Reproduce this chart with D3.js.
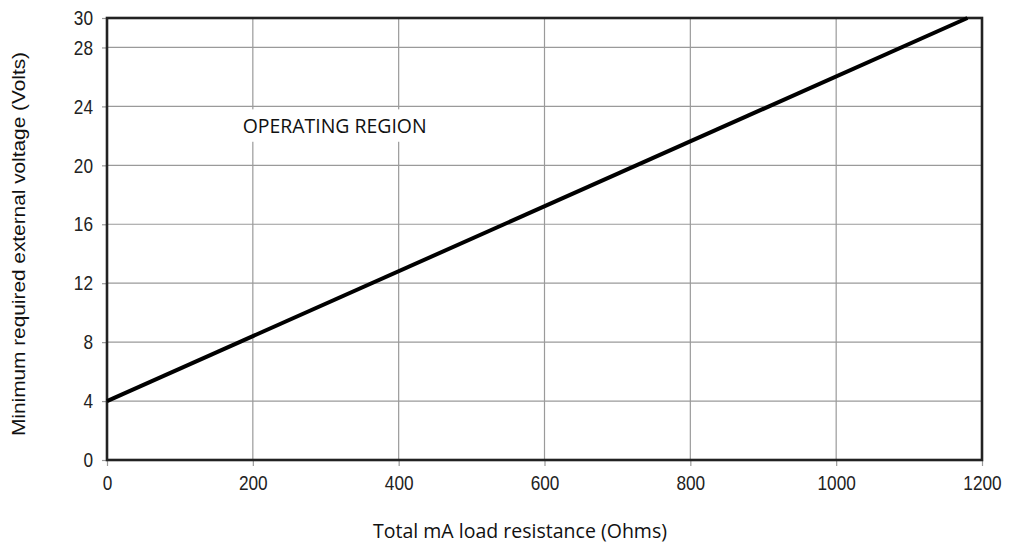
<!DOCTYPE html>
<html>
<head>
<meta charset="utf-8">
<script src="https://cdn.jsdelivr.net/npm/d3@7"></script>
<style>
  body { margin: 0; background: #fff; }
  svg { display: block; }
  .tick text { font-family: "Liberation Sans", Arial, sans-serif; font-size: 21px; fill: #222; }
  .title { font-family: "Open Sans", "Noto Sans", sans-serif; font-size: 20px; fill: #111; }
</style>
</head>
<body>
<svg width="1013" height="548"></svg>
<script>
// minimum supply voltage vs loop resistance
const resistance = [0, 1180];
const voltage = [4, 30];
const xTicks = [0, 200, 400, 600, 800, 1000, 1200];
const yTicks = [0, 4, 8, 12, 16, 20, 24, 28, 30];

var svg = d3.select("svg");
var margin = {left: 107, right: 31, top: 18, bottom: 88};
var width = 1013 - margin.left - margin.right,
    height = 548 - margin.top - margin.bottom;
var squeeze = 0.82; // tick labels are a narrow face

var x = d3.scaleLinear().domain([0, 1200]).range([0, width]);
var y = d3.scaleLinear().domain([0, 30]).range([height, 0]);

var g = svg.append("g")
    .attr("transform", "translate(" + margin.left + "," + margin.top + ")");

// grid
g.append("g").selectAll("line")
  .data(xTicks.slice(1, -1))
  .enter().append("line")
    .attr("x1", d => x(d)).attr("x2", d => x(d))
    .attr("y1", 0).attr("y2", height)
    .attr("stroke", "#9a9a9a").attr("stroke-width", 1.2);

g.append("g").selectAll("line")
  .data(yTicks.slice(1, -1))
  .enter().append("line")
    .attr("x1", 0).attr("x2", width)
    .attr("y1", d => y(d)).attr("y2", d => y(d))
    .attr("stroke", "#9a9a9a").attr("stroke-width", 1.2);

// axes
var xAxis = g.append("g")
    .attr("transform", "translate(0," + height + ")")
    .call(d3.axisBottom(x).tickValues(xTicks).tickSize(6).tickPadding(6).tickFormat(d3.format("d")));
var yAxis = g.append("g")
    .call(d3.axisLeft(y).tickValues(yTicks).tickSize(5).tickPadding(9));
[xAxis, yAxis].forEach(a => {
  a.select(".domain").remove();
  a.selectAll(".tick line").attr("stroke", "#9a9a9a").attr("stroke-width", 1.2);
  a.selectAll(".tick text")
    .attr("x", function() { return +d3.select(this).attr("x") / squeeze; })
    .attr("transform", "scale(" + squeeze + ",1)");
});
xAxis.selectAll(".tick text").attr("dy", "0.88em");

// label box
var lab = g.append("g");
lab.append("rect")
  .attr("x", x(190)).attr("y", y(23.8))
  .attr("width", x(425) - x(190)).attr("height", y(21.6) - y(23.8))
  .attr("fill", "#fff");
lab.append("text")
  .attr("class", "title")
  .attr("x", x(186)).attr("y", y(22.2))
  .attr("textLength", 184).attr("lengthAdjust", "spacingAndGlyphs")
  .text("OPERATING REGION");

// frame
g.append("rect")
  .attr("width", width).attr("height", height)
  .attr("fill", "none").attr("stroke", "#222").attr("stroke-width", 2.6);

// load line
g.append("path")
  .datum(resistance.map((r, i) => [r, voltage[i]]))
  .attr("fill", "none").attr("stroke", "#000").attr("stroke-width", 4)
  .attr("d", d3.line().x(d => x(d[0])).y(d => y(d[1])));

// titles
svg.append("text")
  .attr("class", "title")
  .attr("x", 373).attr("y", 538)
  .attr("textLength", 294).attr("lengthAdjust", "spacingAndGlyphs")
  .text("Total mA load resistance (Ohms)");

svg.append("text")
  .attr("class", "title")
  .attr("transform", "translate(25,244) rotate(-90)")
  .attr("text-anchor", "middle")
  .style("font-family", "'Liberation Sans', Arial, sans-serif")
  .style("font-size", "19px")
  .attr("textLength", 384).attr("lengthAdjust", "spacingAndGlyphs")
  .text("Minimum required external voltage (Volts)");
</script>
</body>
</html>
